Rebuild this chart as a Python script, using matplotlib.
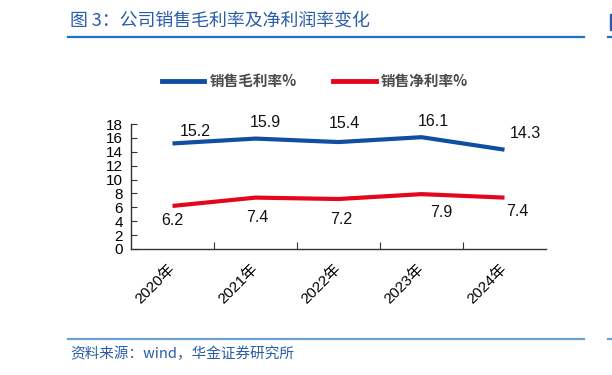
import matplotlib
matplotlib.use("Agg")
import matplotlib.pyplot as plt
from matplotlib.lines import Line2D
from matplotlib.patches import Rectangle

plt.rcParams['font.family'] = ['Liberation Sans', 'Noto Sans CJK SC', 'DejaVu Sans']

years = ['2020年', '2021年', '2022年', '2023年', '2024年']
gross = [15.2, 15.9, 15.4, 16.1, 14.3]
net = [6.2, 7.4, 7.2, 7.9, 7.4]
yticks = [0, 2, 4, 6, 8, 10, 12, 14, 16, 18]

BLUE = '#0f4ea3'
RED = '#e4061c'
CJK = ['Noto Sans CJK SC', 'DejaVu Sans']

fig = plt.figure(figsize=(6.12, 3.75), dpi=100)
W, H = 612, 375
ax = fig.add_axes([131 / W, 1 - 249 / H, (546 - 131) / W, (249 - 124) / H])

x = list(range(len(years)))
ax.plot(x, gross, color=BLUE, lw=3, solid_capstyle='butt')
ax.plot(x, net, color=RED, lw=3, solid_capstyle='butt')

ax.set_xlim(-0.5, len(years) - 0.5)
ax.set_ylim(0, 18)
ax.set_yticks(yticks)
ax.set_yticklabels([str(v) for v in yticks], fontsize=11)
ax.set_xticks([i + 0.5 for i in range(len(years) - 1)])
ax.set_xticklabels([])
ax.set_xticks(x, minor=True)
ax.set_xticklabels(years, minor=True, rotation=45, ha='right', va='center',
                   rotation_mode='anchor', fontsize=11)
ax.tick_params(axis='x', which='minor', length=0, pad=13)
ax.tick_params(axis='x', which='major', direction='in', length=5, color='#333333')
ax.tick_params(axis='y', direction='in', length=4, color='#333333', pad=6)
for s in ['top', 'right']:
    ax.spines[s].set_visible(False)
for s in ['left', 'bottom']:
    ax.spines[s].set_color('#333333')
    ax.spines[s].set_linewidth(1.0)

# data label placement offsets (pixels, right / up)
gross_off = [(23, 12), (10, 16), (6, 19), (12, 16), (21, 16)]
net_off = [(0, -15), (2, -20), (3, -20), (20, -18), (13, -14)]
for i, v in enumerate(gross):
    ax.annotate(f'{v}', (i, v), xytext=gross_off[i], textcoords='offset pixels',
                ha='center', va='center', fontsize=11.5, color='#111111')
for i, v in enumerate(net):
    ax.annotate(f'{v}', (i, v), xytext=net_off[i], textcoords='offset pixels',
                ha='center', va='center', fontsize=11.5, color='#111111')

# legend
handles = [Line2D([], [], color=BLUE, lw=3.5), Line2D([], [], color=RED, lw=3.5)]
fig.legend(handles, ['销售毛利率%', '销售净利率%'], loc='center',
           bbox_to_anchor=(315 / W, 1 - 81 / H), ncol=2, frameon=False,
           handlelength=2.9, columnspacing=2.5, handletextpad=0.35,
           prop={'family': CJK, 'size': 10.5, 'weight': 'bold'},
           labelcolor='#4a4a4a')

# title and source
fig.text(70 / W, 1 - 21 / H, '图 3：公司销售毛利率及净利润率变化', color='#2a5caa',
         fontsize=12.9, ha='left', va='center', family=CJK)
fig.add_artist(Line2D([68 / W, 584 / W], [1 - 36.5 / H, 1 - 36.5 / H], color='#1f72bf', lw=1.6))
fig.add_artist(Line2D([68 / W, 584 / W], [1 - 338.5 / H, 1 - 338.5 / H], color='#6fa2d4', lw=1.6))
fig.text(70 / W, 1 - 354 / H, '资料来源：wind，华金证券研究所', color='#2a5caa',
         fontsize=10.5, ha='left', va='center', style='italic', family=CJK)

# fragments of the neighbouring column at the right edge
fig.add_artist(Line2D([608 / W, 1.0], [1 - 36.5 / H, 1 - 36.5 / H], color='#1f72bf', lw=1.6))
fig.add_artist(Line2D([608 / W, 1.0], [1 - 338.5 / H, 1 - 338.5 / H], color='#6fa2d4', lw=1.6))
fig.add_artist(Rectangle((610 / W, 1 - 30 / H), 2 / W, 16 / H, color='#2a5caa',
                         transform=fig.transFigure))

fig.savefig('out.png', dpi=100)
